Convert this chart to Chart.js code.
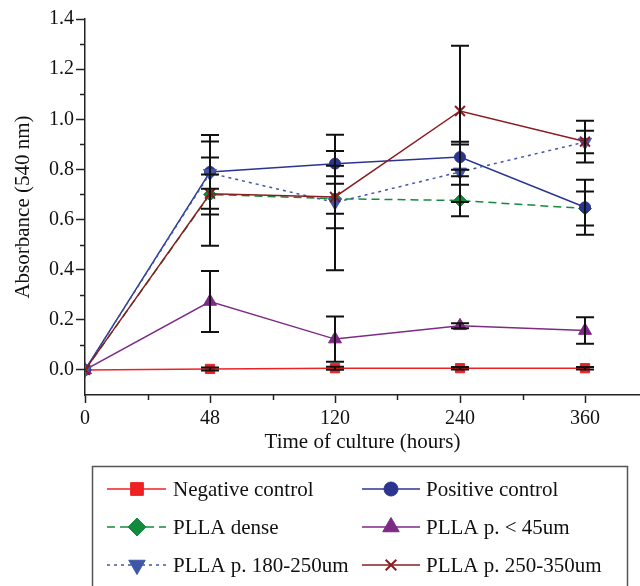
<!DOCTYPE html>
<html>
<head>
<meta charset="utf-8">
<script src="https://cdn.jsdelivr.net/npm/chart.js@4"></script>
<style>
  body { margin: 0; background: #fff; }
</style>
</head>
<body>
<canvas id="chart" width="640" height="586"></canvas>
<script>
const hours = ["0", "48", "120", "240", "360"];
const yTicks = [0, 0.2, 0.4, 0.6, 0.8, 1.0, 1.2, 1.4];
const names = [
  "Negative control",
  "Positive control",
  "PLLA dense",
  "PLLA p. < 45um",
  "PLLA p. 180-250um",
  "PLLA p. 250-350um",
];

const negative = [0, 0.004, 0.007, 0.007, 0.007];
const negativeErr = [0, 0.006, 0.006, 0.005, 0.005];
const positive = [0, 0.79, 0.823, 0.849, 0.649];
const positiveErr = [0, 0.147, 0.05, 0.05, 0.11];
const dense = [0, 0.70, 0.683, 0.676, 0.644];
const denseErr = [0, 0.08, 0.06, 0.063, 0.068];
const small = [0, 0.273, 0.123, 0.176, 0.157];
const smallErr = [0, 0.122, 0.09, 0.01, 0.053];
const mid = [0, 0.785, 0.668, 0.79, 0.909];
const midErr = [0, 0.062, 0.27, 0.12, 0.045];
const large = [0, 0.703, 0.69, 1.033, 0.911];
const largeErr = [0, 0.208, 0.125, 0.26, 0.083];

const serif = "'Liberation Serif', 'Times New Roman', serif";
const ink = "#111";

const toPoints = (arr) => arr.map((v, i) => ({ x: i, y: v }));

function series(i, values, errors, color, style, extra) {
  return Object.assign({
    label: names[i],
    data: toPoints(values),
    errors: errors,
    borderColor: color,
    backgroundColor: color,
    borderWidth: 1.5,
    pointStyle: style,
    pointBackgroundColor: color,
    pointBorderColor: color,
    pointBorderWidth: 1,
    pointRadius: 6.5,
    pointHoverRadius: 6.5,
    tension: 0,
  }, extra);
}

const datasets = [
  series(0, negative, negativeErr, "#ed2224", "rect", { order: 5, pointRadius: 6.5 }),
  series(1, positive, positiveErr, "#2b3590", "circle", { order: 3, pointRadius: 5.5 }),
  series(2, dense, denseErr, "#138a3e", "rectRot", { order: 4, borderDash: [8, 5] }),
  series(3, small, smallErr, "#7d2a85", "triangle", { order: 2, pointRadius: 7.5 }),
  series(4, mid, midErr, "#3f57a8", "triangle", { order: 1, pointRadius: 7.5, pointRotation: 180, borderDash: [3, 4] }),
  series(5, large, largeErr, "#8b1c1f", "crossRot", { order: 0, pointRadius: 7, pointBorderWidth: 2 }),
];

// error bars, drawn over the markers
const errorBars = {
  id: "errorBars",
  afterDatasetsDraw(chart) {
    const ctx = chart.ctx;
    const xs = chart.scales.x;
    const ys = chart.scales.y;
    ctx.save();
    ctx.strokeStyle = ink;
    ctx.lineWidth = 2;
    chart.data.datasets.forEach((ds) => {
      ds.data.forEach((p, i) => {
        const e = ds.errors[i];
        if (!e) return;
        const px = xs.getPixelForValue(p.x);
        const top = ys.getPixelForValue(p.y + e);
        const bot = ys.getPixelForValue(p.y - e);
        ctx.beginPath();
        ctx.moveTo(px, top);
        ctx.lineTo(px, bot);
        ctx.moveTo(px - 9, top);
        ctx.lineTo(px + 9, top);
        ctx.moveTo(px - 9, bot);
        ctx.lineTo(px + 9, bot);
        ctx.stroke();
      });
    });
    ctx.restore();
  },
};

// minor ticks + boxed legend
const extras = {
  id: "extras",
  afterDraw(chart) {
    const ctx = chart.ctx;
    const xs = chart.scales.x;
    const ys = chart.scales.y;
    const area = chart.chartArea;
    ctx.save();
    ctx.strokeStyle = "#222";
    ctx.lineWidth = 1.5;
    ctx.beginPath();
    for (let v = 0.1; v < 1.4; v += 0.2) {
      const py = Math.round(ys.getPixelForValue(v)) + 0.5;
      ctx.moveTo(area.left - 5, py);
      ctx.lineTo(area.left, py);
    }
    for (let v = 0.5; v < xs.max; v += 1) {
      const px = Math.round(xs.getPixelForValue(v)) + 0.5;
      ctx.moveTo(px, area.bottom);
      ctx.lineTo(px, area.bottom + 5);
    }
    ctx.stroke();

    // legend box
    ctx.strokeStyle = "#555";
    ctx.lineWidth = 1.5;
    ctx.strokeRect(92.5, 466.5, 535, 140);

    const lineX0 = [107, 362];
    const lineX1 = [166, 420];
    const markX = [137, 391];
    const textX = [173, 426];
    const rowY = [489, 527, 565];
    const legendRadius = [9, 7, 9, 9.5, 9.5, 7.5];

    chart.data.datasets.forEach((ds, i) => {
      const col = i % 2;
      const y = rowY[Math.floor(i / 2)];
      ctx.save();
      ctx.strokeStyle = ds.borderColor;
      ctx.lineWidth = 1.5;
      ctx.setLineDash(ds.borderDash || []);
      ctx.beginPath();
      ctx.moveTo(lineX0[col], y);
      ctx.lineTo(lineX1[col], y);
      ctx.stroke();
      ctx.setLineDash([]);
      ctx.fillStyle = ds.pointBackgroundColor;
      ctx.strokeStyle = ds.pointBorderColor;
      ctx.lineWidth = ds.pointBorderWidth;
      Chart.helpers.drawPoint(ctx, {
        pointStyle: ds.pointStyle,
        radius: legendRadius[i],
        rotation: ds.pointRotation || 0,
        borderWidth: ds.pointBorderWidth,
      }, markX[col], y);
      ctx.restore();

      ctx.fillStyle = ink;
      ctx.font = "21px " + serif;
      ctx.textBaseline = "alphabetic";
      ctx.fillText(ds.label, textX[col], y + 7);
    });
    ctx.restore();
  },
};

const chart = document.querySelector("#chart").getContext("2d");

new Chart(chart, {
  type: "line",
  data: { datasets: datasets },
  plugins: [errorBars, extras],
  options: {
    responsive: false,
    animation: false,
    layout: { autoPadding: false, padding: { top: 19, right: 0, bottom: 131, left: 0 } },
    plugins: {
      legend: { display: false },
      tooltip: { enabled: false },
    },
    scales: {
      x: {
        type: "linear",
        min: 0,
        max: 4.44,
        afterBuildTicks: (s) => {
          s.ticks = hours.map((h, i) => ({ value: i }));
        },
        afterFit: (s) => {
          s.height = 60;
          s.paddingLeft = 0;
          s.paddingRight = 0;
        },
        ticks: {
          callback: (v) => hours[v],
          font: { family: serif, size: 20 },
          color: ink,
          padding: 4,
          maxRotation: 0,
          autoSkip: false,
        },
        grid: {
          drawOnChartArea: false,
          drawTicks: true,
          tickLength: 8,
          tickWidth: 1.5,
          tickColor: "#222",
        },
        border: { display: true, color: "#222", width: 1.5 },
        title: {
          display: true,
          text: "Time of culture (hours)",
          font: { family: serif, size: 21 },
          color: ink,
          padding: { top: 0, bottom: 0 },
        },
      },
      y: {
        min: -0.1,
        max: 1.4,
        afterBuildTicks: (s) => {
          s.ticks = yTicks.map((v) => ({ value: v }));
        },
        afterFit: (s) => {
          s.width = 85;
          s.paddingTop = 0;
          s.paddingBottom = 0;
        },
        ticks: {
          callback: (v) => v.toFixed(1),
          font: { family: serif, size: 20 },
          color: ink,
          padding: 2,
        },
        grid: {
          drawOnChartArea: false,
          drawTicks: true,
          tickLength: 9,
          tickWidth: 1.5,
          tickColor: "#222",
        },
        border: { display: true, color: "#222", width: 1.5 },
        title: {
          display: true,
          text: "Absorbance (540 nm)",
          font: { family: serif, size: 21 },
          color: ink,
          padding: { top: 11, bottom: 0 },
        },
      },
    },
  },
});
</script>
</body>
</html>
